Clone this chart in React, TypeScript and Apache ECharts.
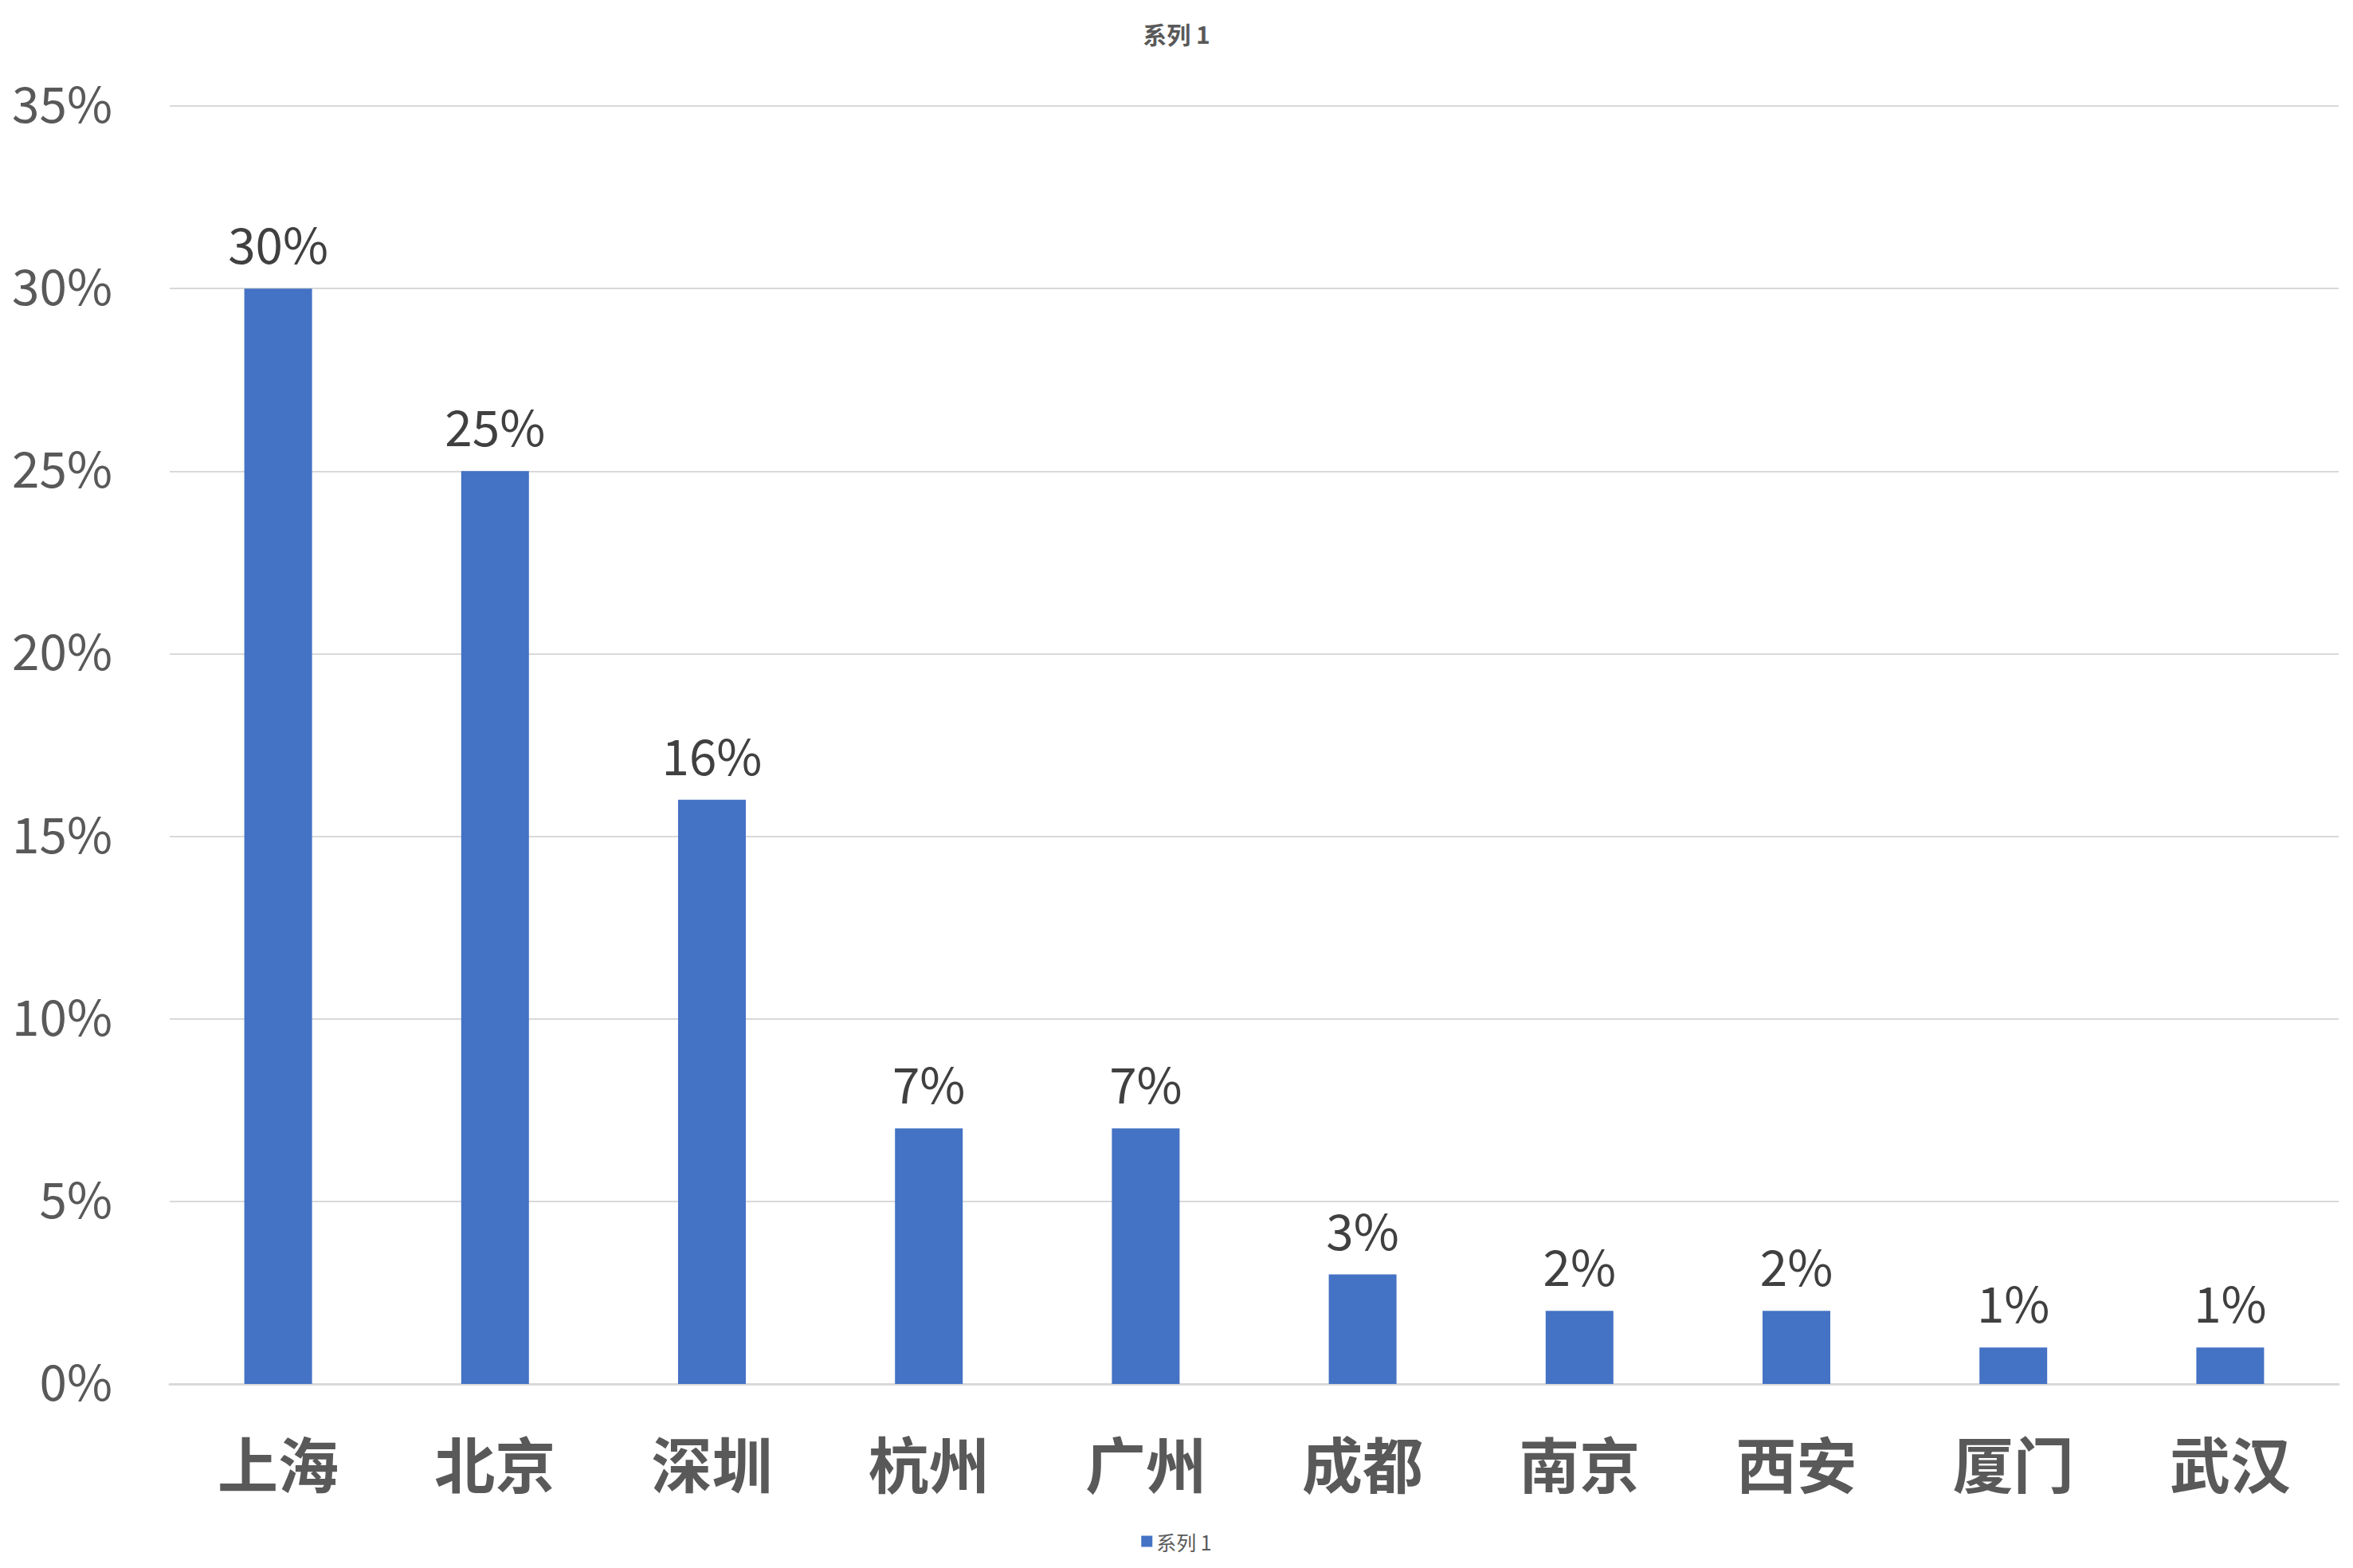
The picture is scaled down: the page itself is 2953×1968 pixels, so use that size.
import React, { useEffect, useRef } from 'react';
import * as echarts from 'echarts';

const cities = ['上海', '北京', '深圳', '杭州', '广州', '成都', '南京', '西安', '厦门', '武汉'];
const shares = [30, 25, 16, 7, 7, 3, 2, 2, 1, 1];
const seriesName = '系列 1';

const FONT = '"Noto Sans CJK SC", "Noto Sans", sans-serif';

const App: React.FC = () => {
  const chartRef = useRef<HTMLDivElement>(null);

  useEffect(() => {
    if (!chartRef.current) return;
    const chart = echarts.init(chartRef.current, undefined, { renderer: 'svg' });

    const option = {
      animation: false,
      backgroundColor: '#ffffff',
      title: {
        text: seriesName,
        left: 'center',
        top: 22,
        textStyle: {
          fontFamily: FONT,
          fontSize: 30,
          fontWeight: 'bold',
          color: '#595959',
        },
      },
      legend: {
        data: [seriesName],
        left: 'center',
        bottom: 16,
        itemWidth: 14,
        itemHeight: 14,
        itemGap: 6,
        icon: 'rect',
        textStyle: {
          fontFamily: FONT,
          fontSize: 25,
          color: '#595959',
        },
      },
      grid: {
        left: 213,
        right: 18,
        top: 133,
        bottom: 231,
      },
      xAxis: {
        type: 'category',
        data: cities,
        axisLine: { lineStyle: { color: '#d9d9d9', width: 3 } },
        axisTick: { show: false },
        axisLabel: {
          margin: 60,
          fontFamily: FONT,
          fontSize: 76,
          fontWeight: 'bold',
          color: '#595959',
        },
      },
      yAxis: {
        type: 'value',
        min: 0,
        max: 35,
        interval: 5,
        axisLine: { show: false },
        axisTick: { show: false },
        axisLabel: {
          margin: 72,
          color: '#595959',
          formatter: (v: number) => `{t|${v}%}`,
          rich: {
            t: {
              fontFamily: FONT,
              fontSize: 62,
              color: '#595959',
              padding: [0, 0, 12, 0],
            },
          },
        },
        splitLine: { lineStyle: { color: '#d9d9d9', width: 2 } },
      },
      series: [
        {
          name: seriesName,
          type: 'bar',
          data: shares,
          barWidth: 85,
          itemStyle: { color: '#4472C4' },
          label: {
            show: true,
            position: 'top',
            distance: 27,
            fontFamily: FONT,
            fontSize: 62,
            color: '#404040',
            formatter: '{c}%',
          },
        },
      ],
    };

    chart.setOption(option);

    return () => {
      chart.dispose();
    };
  }, []);

  return (
    <div
      ref={chartRef}
      style={{
        position: 'fixed',
        left: 0,
        top: 0,
        width: '2953px',
        height: '1968px',
      }}
    />
  );
};

export default App;
